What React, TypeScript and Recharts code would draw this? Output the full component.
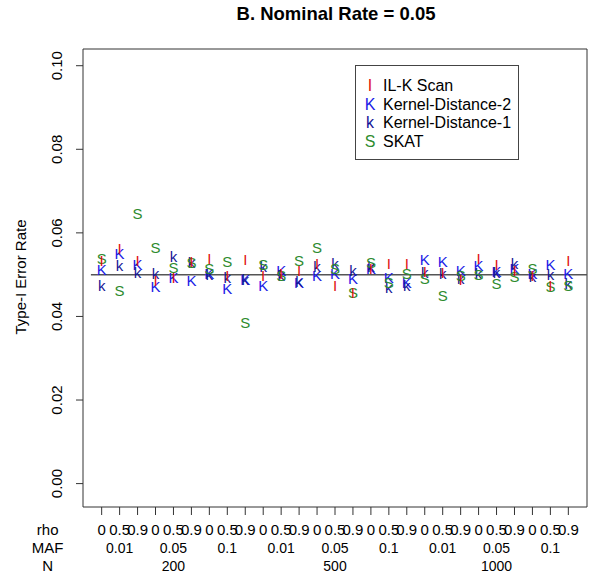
import React from "react";
import {
  ScatterChart,
  Scatter,
  XAxis,
  YAxis,
  ReferenceLine,
  ReferenceArea,
} from "recharts";

// 27 settings: N (outer) x MAF x rho (inner)
const rhoLabels = ["0", "0.5", "0.9"];
const mafLabels = ["0.01", "0.05", "0.1"];
const nLabels = ["200", "500", "1000"];

const ilkScan = [
  0.0534, 0.0562, 0.0534, 0.0486, 0.0493, 0.0531, 0.0538, 0.0498, 0.0536,
  0.0498, 0.0502, 0.051, 0.0526, 0.0474, 0.0457, 0.0514, 0.0526, 0.0526,
  0.0507, 0.0505, 0.0488, 0.0538, 0.0524, 0.051, 0.0498, 0.0474, 0.0534,
];
const kernelDist2 = [
  0.0512, 0.055, 0.0524, 0.0471, 0.0493, 0.0486, 0.0502, 0.0466, 0.0488,
  0.0474, 0.051, 0.0481, 0.0498, 0.0502, 0.049, 0.0514, 0.0493, 0.0481,
  0.0536, 0.0531, 0.051, 0.0522, 0.0507, 0.0514, 0.0502, 0.0524, 0.0502,
];
const kernelDist1 = [
  0.0474, 0.0522, 0.0505, 0.0502, 0.0543, 0.0529, 0.05, 0.0493, 0.0488,
  0.0519, 0.0498, 0.0483, 0.0519, 0.0526, 0.051, 0.0519, 0.0469, 0.0474,
  0.0505, 0.0502, 0.049, 0.0502, 0.0505, 0.0526, 0.0495, 0.05, 0.0478,
];
const skat = [
  0.0538, 0.0462, 0.0646, 0.0565, 0.0517, 0.0529, 0.0514, 0.0531, 0.0385,
  0.0524, 0.0498, 0.0534, 0.0565, 0.0514, 0.0457, 0.0529, 0.0481, 0.0502,
  0.049, 0.045, 0.0498, 0.05, 0.0478, 0.0495, 0.0514, 0.0471, 0.0474,
];

const nominalRate = 0.05;
const yTicks = [0, 0.02, 0.04, 0.06, 0.08, 0.1];
const xTicks = rhoLabels.length * mafLabels.length * nLabels.length;

const series = [
  { name: "IL-K Scan", symbol: "I", color: "#e01010", values: ilkScan },
  { name: "Kernel-Distance-2", symbol: "K", color: "#1a1ae6", values: kernelDist2 },
  { name: "Kernel-Distance-1", symbol: "k", color: "#141496", values: kernelDist1 },
  { name: "SKAT", symbol: "S", color: "#2e8b2e", values: skat },
];
// draw order so the red bars stay on top like the original
const drawOrder = [1, 2, 3, 0];

const FONT = "'Liberation Sans', Arial, Helvetica, sans-serif";

const XTick = (props: any) => {
  const { x, payload } = props;
  const i = payload.value - 1;
  const style = { fontFamily: FONT, fill: "#000" };
  return (
    <g>
      <text x={x} y={530} dy="0.35em" textAnchor="middle" fontSize={15} {...style}>
        {rhoLabels[i % 3]}
      </text>
      {i % 3 === 1 && (
        <text x={x} y={548} dy="0.35em" textAnchor="middle" fontSize={14} {...style}>
          {mafLabels[Math.floor(i / 3) % 3]}
        </text>
      )}
      {i % 9 === 4 && (
        <text x={x} y={566} dy="0.35em" textAnchor="middle" fontSize={14} {...style}>
          {nLabels[Math.floor(i / 9)]}
        </text>
      )}
      {i === 0 && (
        <g>
          <text x={x - 54} y={530} dy="0.35em" textAnchor="middle" fontSize={15} {...style}>rho</text>
          <text x={x - 54} y={548} dy="0.35em" textAnchor="middle" fontSize={15} {...style}>MAF</text>
          <text x={x - 54} y={566} dy="0.35em" textAnchor="middle" fontSize={15} {...style}>N</text>
        </g>
      )}
    </g>
  );
};

const YTick = (props: any) => {
  const { y, payload } = props;
  const cx = 57;
  return (
    <text
      x={cx}
      y={y}
      dy="0.35em"
      textAnchor="middle"
      fontSize={15}
      fontFamily={FONT}
      fill="#000"
      transform={`rotate(-90, ${cx}, ${y})`}
    >
      {payload.value.toFixed(2)}
    </text>
  );
};

const letterShape = (symbol: string, color: string) => (props: any) => {
  const { cx, cy } = props;
  return (
    <text
      x={cx}
      y={cy}
      dy="0.36em"
      textAnchor="middle"
      fontSize={15}
      fontFamily={FONT}
      fill={color}
    >
      {symbol}
    </text>
  );
};

export default function App() {
  const xs = Array.from({ length: xTicks }, (_, i) => i + 1);
  return (
    <div style={{ position: "absolute", left: 0, top: 0, width: 601, height: 582, background: "#fff" }}>
      <div
        style={{
          position: "absolute",
          left: 336,
          top: 3,
          transform: "translateX(-50%)",
          fontFamily: FONT,
          fontWeight: "bold",
          fontSize: 18.5,
          whiteSpace: "nowrap",
        }}
      >
        B. Nominal Rate = 0.05
      </div>
      <div
        style={{
          position: "absolute",
          left: 20,
          top: 277,
          transform: "translate(-50%, -50%) rotate(-90deg)",
          fontFamily: FONT,
          fontSize: 15,
          whiteSpace: "nowrap",
        }}
      >
        Type-I Error Rate
      </div>
      <ScatterChart
        width={601}
        height={582}
        margin={{ top: 49, right: 14, bottom: 0, left: 0 }}
      >
        <XAxis
          type="number"
          dataKey="x"
          domain={[-0.04, 28.04]}
          allowDataOverflow
          ticks={xs}
          interval={0}
          tick={<XTick />}
          tickSize={8}
          tickLine={{ stroke: "#333" }}
          axisLine={false}
          height={75}
        />
        <YAxis
          type="number"
          dataKey="y"
          domain={[-0.0056, 0.104]}
          allowDataOverflow
          ticks={yTicks}
          interval={0}
          tick={<YTick />}
          tickSize={7}
          tickLine={{ stroke: "#333" }}
          axisLine={false}
          width={83}
        />
        <ReferenceArea
          x1={-0.04}
          x2={28.04}
          y1={-0.0056}
          y2={0.104}
          fill="none"
          fillOpacity={0}
          stroke="#333"
          strokeWidth={1}
          ifOverflow="visible"
        />
        <ReferenceLine
          segment={[
            { x: 0.4, y: nominalRate },
            { x: 28.04, y: nominalRate },
          ]}
          stroke="#555"
          strokeWidth={1.5}
          ifOverflow="visible"
        />
        {drawOrder.map((si) => {
          const s = series[si];
          const data = s.values.map((v, i) => ({ x: i + 1, y: v }));
          return (
            <Scatter
              key={s.name}
              name={s.name}
              data={data}
              isAnimationActive={false}
              shape={letterShape(s.symbol, s.color)}
            />
          );
        })}
      </ScatterChart>
      <div
        style={{
          position: "absolute",
          left: 355,
          top: 65,
          width: 162,
          height: 93,
          border: "1px solid #444",
          background: "#fff",
          fontFamily: FONT,
          fontSize: 16,
        }}
      >
        {series.map((s, i) => (
          <div
            key={s.name}
            style={{
              position: "absolute",
              left: 0,
              top: 10 + i * 18.7,
              height: 19,
              lineHeight: "19px",
              whiteSpace: "nowrap",
            }}
          >
            <span style={{ position: "absolute", left: 8, width: 12, textAlign: "center", color: s.color }}>
              {s.symbol}
            </span>
            <span style={{ position: "absolute", left: 27 }}>{s.name}</span>
          </div>
        ))}
      </div>
    </div>
  );
}
